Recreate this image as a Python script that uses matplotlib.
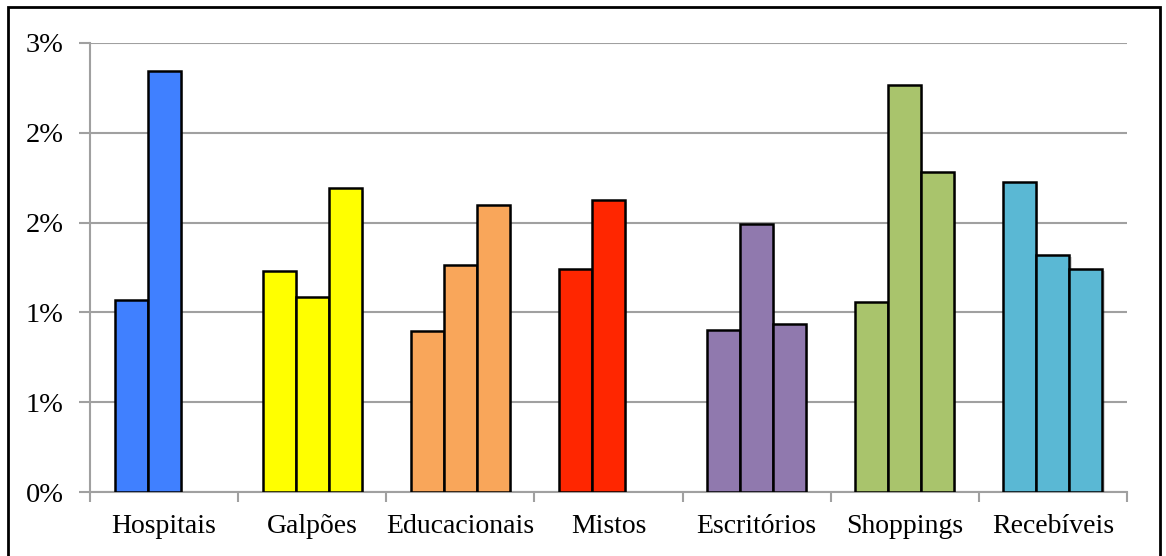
import numpy as np
import matplotlib.pyplot as plt
from matplotlib.patches import Rectangle
from matplotlib import patheffects

plt.rcParams['font.family'] = ['Liberation Serif', 'DejaVu Serif']

categorias = ['Hospitais', 'Galpões', 'Educacionais', 'Mistos',
              'Escritórios', 'Shoppings', 'Recebíveis']
cores = ['#4080FF', '#FFFF00', '#F9A65A', '#FF2600',
         '#9079AE', '#A9C46C', '#5AB8D4']

# three bars per sector (nan = no bar)
serie_1 = [1.069, 1.23, 0.896, 1.24, 0.904, 1.058, 1.724]
serie_2 = [2.346, 1.086, 1.264, 1.626, 1.49, 2.264, 1.32]
serie_3 = [np.nan, 1.69, 1.598, np.nan, 0.935, 1.782, 1.242]

y_ticks = [0, 0.5, 1.0, 1.5, 2.0, 2.5]
y_labels = ['0%', '1%', '1%', '2%', '2%', '3%']

fig = plt.figure(figsize=(11.66, 5.56), dpi=100)
ax = fig.add_axes([90 / 1166, 1 - 492 / 556, (1127 - 90) / 1166, (492 - 43) / 556])

# outer frame
fig.patches.append(Rectangle((8 / 1166, -0.05), (1160 - 8) / 1166, 1.05 - 7 / 556,
                             transform=fig.transFigure, fill=False,
                             edgecolor='black', linewidth=2))

x = np.arange(len(categorias))
largura = 0.223
sombra = [patheffects.SimplePatchShadow(offset=(1.5, -1.5), shadow_rgbFace='black', alpha=0.15),
          patheffects.Normal()]
for k, serie in enumerate([serie_1, serie_2, serie_3]):
    barras = ax.bar(x + (k - 1) * largura, serie, width=largura, color=cores,
                    edgecolor='black', linewidth=1.8, zorder=3)
    for b in barras:
        b.set_path_effects(sombra)

ax.set_xlim(-0.5, len(categorias) - 0.5)
ax.set_ylim(0, 2.5)

ax.set_yticks(y_ticks)
ax.set_yticklabels(y_labels, fontsize=20.5)
ax.yaxis.grid(True, color='#A0A0A0', linewidth=1.5, zorder=0)
ax.tick_params(axis='y', length=8, width=1.5, color='#A0A0A0', pad=11)

ax.set_xticks(x)
ax.set_xticklabels(categorias, fontsize=20)
ax.set_xticks(np.arange(len(categorias) + 1) - 0.5, minor=True)
ax.tick_params(axis='x', which='major', length=0, pad=16)
ax.tick_params(axis='x', which='minor', length=7, width=1.5, color='#A0A0A0')

for lado in ['top', 'right']:
    ax.spines[lado].set_visible(False)
for lado in ['left', 'bottom']:
    ax.spines[lado].set_color('#A0A0A0')
    ax.spines[lado].set_linewidth(1.5)

fig.savefig('out.png', dpi=100)
